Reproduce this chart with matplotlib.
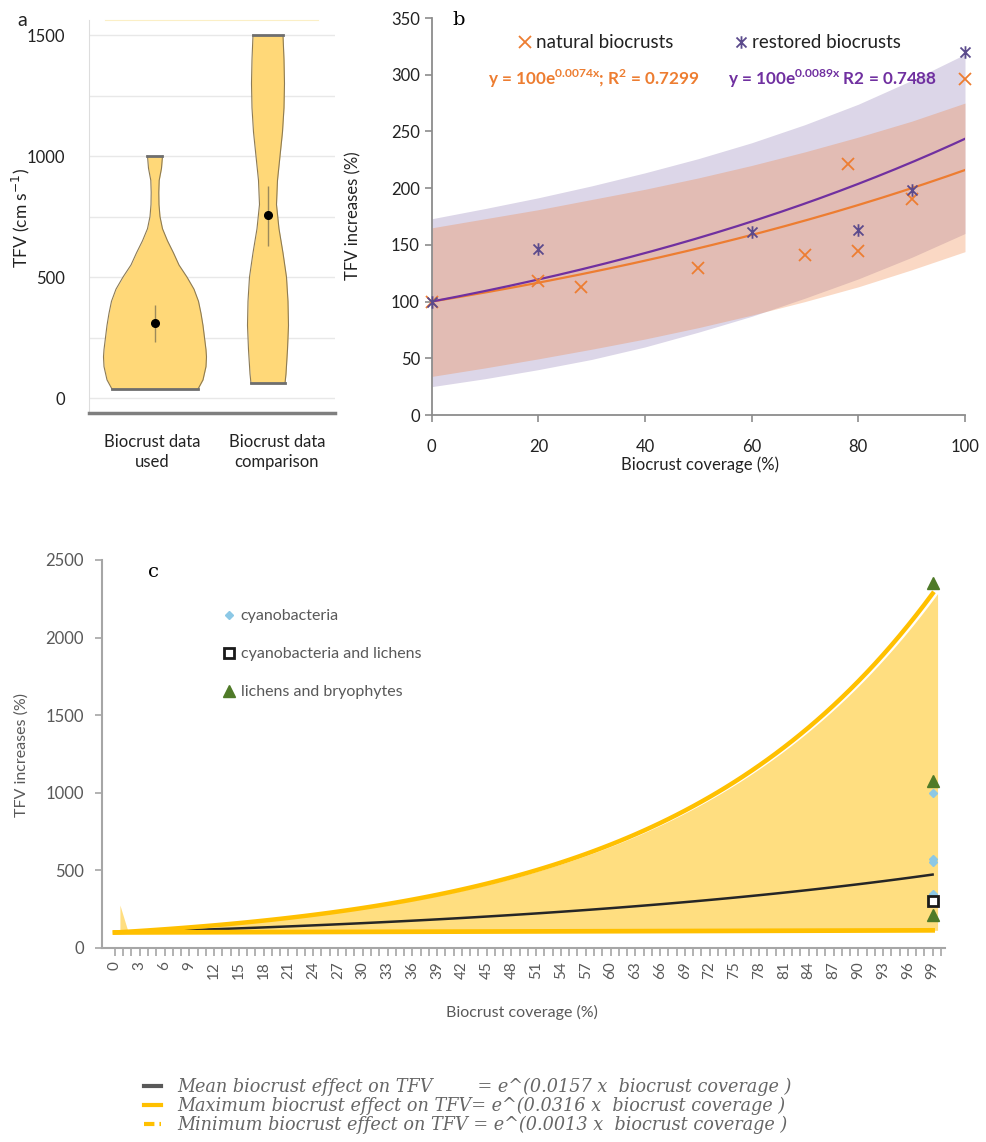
import numpy as np
import matplotlib
matplotlib.use("Agg")
import matplotlib.pyplot as plt
from matplotlib import font_manager
from matplotlib.lines import Line2D
from matplotlib.path import Path
from matplotlib.transforms import ScaledTranslation

W, H = 987, 1142

def have(name):
    return any(f.name == name for f in font_manager.fontManager.ttflist)

NARROW = "Liberation Sans Narrow" if have("Liberation Sans Narrow") else "Lato"
SANS = "Lato"
SERIF = "DejaVu Serif"
plt.rcParams["font.family"] = [SANS, "DejaVu Sans"]

# ---------------- panel a : violin profiles (TFV level, half width in px) ----
VIO_CATS = ["Biocrust data\nused", "Biocrust data\ncomparison"]
VIO1_LEVEL = [37, 75, 130, 170, 200, 250, 300, 350, 400, 450, 500, 550, 600,
              650, 700, 750, 800, 850, 900, 950, 1000]
VIO1_WIDTH = [43, 48, 51, 51.5, 51, 49.5, 48, 46, 43.5, 39, 32, 24, 18.5,
              12.5, 7.5, 5, 4, 3.8, 4.2, 6.5, 7.5]
VIO2_LEVEL = [60, 100, 200, 300, 400, 500, 600, 700, 800, 900, 1000, 1100,
              1200, 1300, 1400, 1500]
VIO2_WIDTH = [17, 18, 19.5, 20.5, 20, 18.5, 15, 11, 8.5, 9.5, 12, 14.5,
              16, 16.5, 16, 15]
VIO_MEDIAN = [310, 755]
VIO_LOW = [232, 627]
VIO_HIGH = [386, 877]

# ---------------- panel b ---------------------------------------------------
NAT_X = [0, 20, 28, 50, 70, 78, 80, 90, 100]
NAT_Y = [100, 118, 113, 130, 141, 221, 145, 190, 296]
RES_X = [0, 20, 60, 80, 90, 100]
RES_Y = [100, 146, 161, 163, 198, 320]
BAND_X = [0, 10, 20, 30, 40, 50, 60, 70, 80, 90, 100]
RES_UP = [173, 182, 191.5, 202, 213.5, 226, 240, 256, 274, 295, 318]
RES_LO = [25, 32, 40, 49, 60, 73, 87, 103, 120, 139, 160]
NAT_UP = [165, 173, 181, 190, 199, 209, 220, 232, 245, 259, 275]
NAT_LO = [34, 41.5, 49.5, 58, 67, 77, 88, 100, 113, 128, 144]
K_NAT = 0.0077
K_RES = 0.0089

# ---------------- panel c ---------------------------------------------------
COVER = np.arange(0, 100)
K_MEAN, K_MAX, K_MIN = 0.0157, 0.0316, 0.0013
AREA_SPIKE = 277
PT_X = 99
CYANO_Y = [1000, 575, 555, 350]
MIXED_Y = [300]
LICHEN_Y = [2350, 1075, 210]

ORANGE = "#ED7D31"
PURPLE = "#7030A0"
PURPLE_MK = "#5B4A8C"
GOLD = "#FFC000"
GREY = "#595959"

STAR = Path([(-1, -1), (1, 1), (-1, 1), (1, -1), (0, -1.25), (0, 1.25)],
            [Path.MOVETO, Path.LINETO, Path.MOVETO, Path.LINETO, Path.MOVETO, Path.LINETO])


def box(l, t, r, b):
    return [l / W, 1 - b / H, (r - l) / W, (b - t) / H]


def fpos(x, y):
    return x / W, 1 - y / H


fig = plt.figure(figsize=(W / 100, H / 100), dpi=100)

# ======================= a =======================
axa = fig.add_axes(box(89, 20, 335, 413))
axa.set_xlim(0.416, 2.593)
axa.set_ylim(-62, 1563)
px = 113.0  # px per category unit
for i, (lv, wd) in enumerate([(VIO1_LEVEL, VIO1_WIDTH), (VIO2_LEVEL, VIO2_WIDTH)]):
    pos = i + 1
    lv = np.array(lv, float)
    hw = np.array(wd, float) / px
    axa.fill_betweenx(lv, pos - hw, pos + hw, color="#FFD878", lw=0, zorder=2)
    axa.plot(pos - hw, lv, color="#8C7B55", lw=0.8, zorder=3)
    axa.plot(pos + hw, lv, color="#8C7B55", lw=0.8, zorder=3)
    for j in (0, -1):
        axa.plot([pos - hw[j], pos + hw[j]], [lv[j], lv[j]], color="#6E6E6E", lw=2, zorder=3)
    axa.vlines(pos, VIO_LOW[i], VIO_HIGH[i], color="#9C8A5A", lw=1, zorder=4)
    axa.plot(pos, VIO_MEDIAN[i], "o", color="black", ms=5.5, zorder=5)

axa.set_yticks(range(0, 1501, 250))
axa.set_yticklabels(["0", "", "500", "", "1000", "", "1500"])
axa.set_xticks([1, 2])
axa.set_xticklabels(VIO_CATS, linespacing=1.3)
axa.grid(axis="y", color="#E8E8E8", lw=1)
axa.set_axisbelow(True)
axa.tick_params(length=0, labelsize=12, colors="#222222")
axa.tick_params(axis="y", pad=17)
axa.tick_params(axis="x", pad=15)
for t in axa.get_xticklabels() + axa.get_yticklabels():
    t.set_family([NARROW, "DejaVu Sans"])
lab = axa.get_xticklabels()
lab[0].set_transform(lab[0].get_transform() + ScaledTranslation(-3 / 100, 0, fig.dpi_scale_trans))
lab[1].set_transform(lab[1].get_transform() + ScaledTranslation(9 / 100, 0, fig.dpi_scale_trans))
axa.spines["right"].set_visible(False)
axa.spines["left"].set_color("#DDDDDD")
axa.spines["bottom"].set_color("#7F7F7F")
axa.spines["bottom"].set_linewidth(2.5)
axa.spines["top"].set_color("#FBEFC6")
axa.spines["top"].set_bounds(0.56, 2.44)
fig.text(*fpos(22, 20), "a", size=14, va="center", ha="center", color="#222222")
fig.text(*fpos(21, 218), "TFV (cm s$^{-1}$)", rotation=90, size=12.5, va="center",
         ha="center", color="#222222", family=[NARROW, "DejaVu Sans"])

# ======================= b =======================
axb = fig.add_axes(box(431.7, 18, 965, 415))
axb.set_xlim(0, 100)
axb.set_ylim(0, 350)
axb.fill_between(BAND_X, RES_LO, RES_UP, color="#DCD6E8", lw=0, zorder=1)
axb.fill_between(BAND_X, NAT_LO, NAT_UP, color="#F0803C", alpha=0.3, lw=0, zorder=2)
xs = np.linspace(0, 100, 200)
axb.plot(xs, 100 * np.exp(K_NAT * xs), color=ORANGE, lw=1.6, zorder=3)
axb.plot(xs, 100 * np.exp(K_RES * xs), color=PURPLE, lw=1.6, zorder=3)
axb.plot(NAT_X, NAT_Y, ls="none", marker="x", color=ORANGE, ms=9, mew=1.3,
         clip_on=False, zorder=5)
axb.plot(RES_X, RES_Y, ls="none", marker=STAR, color=PURPLE_MK, ms=9, mew=1.3,
         clip_on=False, zorder=5)
axb.set_xticks(range(0, 101, 20))
axb.set_yticks(range(0, 351, 50))
axb.spines[["top", "right"]].set_visible(False)
for s in ("left", "bottom"):
    axb.spines[s].set_color("#8C8C8C")
    axb.spines[s].set_linewidth(1.3)
axb.tick_params(direction="out", length=5, color="#8C8C8C", labelsize=12,
                labelcolor="#222222", width=1.2)
axb.tick_params(axis="x", pad=12)
fig.legend([Line2D([], [], ls="none", marker="x", color=ORANGE, ms=9, mew=1.3),
            Line2D([], [], ls="none", marker=STAR, color=PURPLE_MK, ms=9, mew=1.3)],
           ["natural biocrusts", "restored biocrusts"], loc="center left",
           bbox_to_anchor=fpos(508, 43), ncol=2, frameon=False, fontsize=13.5,
           handlelength=0.8, handletextpad=0.2, columnspacing=3.2, borderpad=0,
           labelcolor="#222222")
fig.text(*fpos(488, 79), "y = 100e$^{\\mathregular{0.0074x}}$; R$^{\\mathregular{2}}$ = 0.7299",
         color=ORANGE, size=12.3, weight="bold", va="center")
fig.text(*fpos(728, 79), "y = 100e$^{\\mathregular{0.0089x}}$ R2 = 0.7488",
         color=PURPLE, size=12.3, weight="bold", va="center")
fig.text(*fpos(452, 20), "b", family=SERIF, size=14, va="center")
fig.text(*fpos(700, 465), "Biocrust coverage (%)", size=12, ha="center",
         va="center", color="#222222")
fig.text(*fpos(353, 216), "TFV increases (%)", size=12, rotation=90,
         ha="center", va="center", color="#222222")

# ======================= c =======================
axc = fig.add_axes(box(102, 560, 945, 948))
axc.set_xlim(-1.57, 100.5)
axc.set_ylim(0, 2500)
mean_c = 100 * np.exp(K_MEAN * COVER)
max_c = 100 * np.exp(K_MAX * COVER)
min_c = 100 * np.exp(K_MIN * COVER)
area_top = max_c.copy()
area_top[0] = AREA_SPIKE
axc.fill_between(COVER + 0.6, min_c, area_top, color="#FFDE80", lw=0, zorder=1)
axc.plot(COVER, mean_c, color="#262626", lw=1.8, zorder=2)
axc.plot(COVER, min_c, color=GOLD, lw=3.4, zorder=3)
axc.plot(COVER, max_c, color=GOLD, lw=3.2, zorder=3)
axc.plot([PT_X] * len(CYANO_Y), CYANO_Y, ls="none", marker="D", color="#8CC8E6",
         ms=4.5, zorder=5)
axc.plot([PT_X] * len(MIXED_Y), MIXED_Y, ls="none", marker="s", mfc="white",
         mec="#1A1A1A", mew=2, ms=7, zorder=6)
axc.plot([PT_X] * len(LICHEN_Y), LICHEN_Y, ls="none", marker="^", color="#4F7A28",
         ms=8, zorder=5)
axc.set_xticks(range(0, 100, 3))
axc.set_xticks(range(0, 101), minor=True)
axc.set_yticks(range(0, 2501, 500))
axc.spines[["top", "right"]].set_visible(False)
for s in ("left", "bottom"):
    axc.spines[s].set_color("#A6A6A6")
    axc.spines[s].set_linewidth(1.5)
axc.tick_params(which="both", direction="out", color="#A6A6A6", width=1.2)
axc.tick_params(axis="x", which="both", length=6)
axc.tick_params(axis="x", labelrotation=90, labelsize=11, labelcolor=GREY)
axc.tick_params(axis="y", length=5, labelsize=12, labelcolor=GREY, pad=8)
fig.legend([Line2D([], [], ls="none", marker="D", color="#8CC8E6", ms=4.5),
            Line2D([], [], ls="none", marker="s", mfc="white", mec="#1A1A1A", mew=2, ms=7),
            Line2D([], [], ls="none", marker="^", color="#4F7A28", ms=8)],
           ["cyanobacteria", "cyanobacteria and lichens", "lichens and bryophytes"],
           loc="upper left", bbox_to_anchor=fpos(215, 601), frameon=False,
           fontsize=11.5, labelcolor=GREY, handlelength=0.8, handletextpad=0.3,
           labelspacing=1.5, borderpad=0)
fig.text(*fpos(148, 572), "c", family=SERIF, size=14, va="center")
fig.text(*fpos(522, 1012), "Biocrust coverage (%)", size=11.5, ha="center",
         va="center", color=GREY)
fig.text(*fpos(22, 755), "TFV increases (%)", size=11.5, rotation=90,
         ha="center", va="center", color=GREY)

# bottom legend
fig.legend([Line2D([], [], color=GREY, lw=3),
            Line2D([], [], color=GOLD, lw=3),
            Line2D([], [], color=GOLD, lw=3, ls=(0, (2.5, 1.2, 1, 1.2)))],
           ["Mean biocrust effect on TFV        = e^(0.0157 x  biocrust coverage )",
            "Maximum biocrust effect on TFV= e^(0.0316 x  biocrust coverage )",
            "Minimum biocrust effect on TFV = e^(0.0013 x  biocrust coverage )"],
           loc="upper left", bbox_to_anchor=fpos(135, 1069), frameon=False,
           prop={"family": SERIF, "style": "italic", "size": 12.7},
           labelcolor="#666666", handlelength=1.0, handletextpad=0.9,
           labelspacing=0.04, borderpad=0)

fig.savefig("out.png", dpi=100)
